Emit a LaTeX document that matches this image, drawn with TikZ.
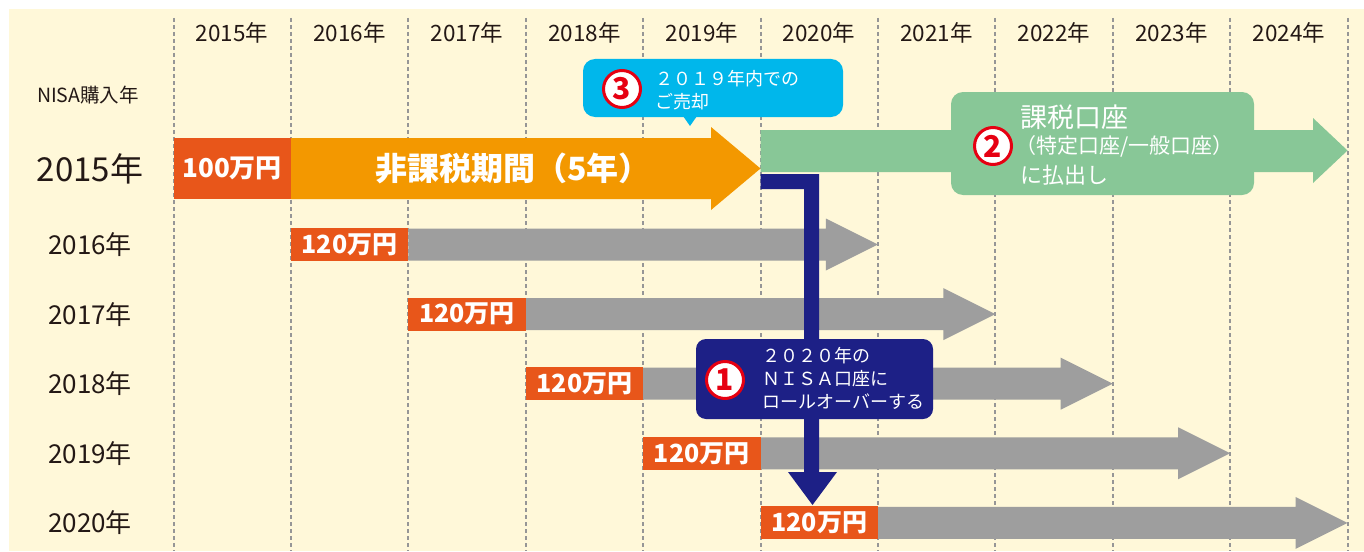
\documentclass[tikz,border=0pt]{standalone}
\usepackage{fontspec}
\setmainfont{Noto Sans CJK JP}
\usetikzlibrary{positioning}
\definecolor{cream}{RGB}{255,248,217}
\definecolor{gridgray}{RGB}{150,150,150}
\definecolor{barred}{RGB}{232,86,26}
\definecolor{barorange}{RGB}{243,152,0}
\definecolor{bargreen}{RGB}{136,199,151}
\definecolor{bargray}{RGB}{158,158,158}
\definecolor{rollnavy}{RGB}{29,32,134}
\definecolor{calloutblue}{RGB}{0,183,235}
\definecolor{markred}{RGB}{230,0,18}
\definecolor{inkdark}{RGB}{35,24,21}

\tikzset{
  gridline/.style={draw=gridgray, line width=2pt, dash pattern=on 4pt off 3pt},
  yearhead/.style={text=inkdark, inner sep=0pt, font=\fontsize{22.5}{25}\selectfont},
  rowlabel/.style={text=inkdark, inner sep=0pt, font=\fontsize{26}{28}\selectfont},
  moneybox/.style={fill=barred, text=white, minimum width=117.4pt, minimum height=33pt,
    inner sep=0pt, font=\bfseries\fontsize{25}{28}\selectfont},
  numbermark/.style={circle, draw=markred, line width=3pt, fill=white, text=markred,
    minimum size=37pt, inner sep=0pt, font=\bfseries\fontsize{30}{30}\selectfont},
  notetext/.style={text=white, anchor=west, inner sep=0pt, font=\fontsize{18}{20}\selectfont}
}

\begin{document}
\begin{tikzpicture}[x=1pt, y=-1pt]
    \useasboundingbox (0,0) rectangle (1364,551);
    \fill[cream] (9,9) rectangle (1364,551);

    \foreach \k in {0,...,10}
      \draw[gridline] (173.5+117.4*\k,18) -- (173.5+117.4*\k,551);

    \foreach \yr [count=\k from 0] in {2015,...,2024}
      \node[yearhead] (head\yr) at (232.2+117.4*\k,33) {{\yr}年};

    \node[text=inkdark, inner sep=0pt, font=\fontsize{19.5}{22}\selectfont] (buyyear) at (88,95) {NISA購入年};
    \node[text=inkdark, inner sep=0pt, font=\fontsize{33}{36}\selectfont] (row2015) at (90,168.5) {2015年};

    \fill[barorange] (290.9,138) -- (711,138) -- (711,127) -- (760.5,168.5)
      -- (711,210) -- (711,199) -- (290.9,199) -- cycle;
    \node[moneybox, minimum height=61pt, font=\bfseries\fontsize{26}{28}\selectfont] (buy2015) at (232.2,168.5) {100万円};
    \node[text=white, font=\bfseries\fontsize{32}{34}\selectfont] (taxfree) at (513,168.5) {非課税期間（5年）};

    \fill[bargreen] (760.5,130) -- (1313,130) -- (1313,118) -- (1347.5,150.5)
      -- (1313,183) -- (1313,172) -- (760.5,172) -- cycle;
    \fill[bargreen, rounded corners=12pt] (951,92) rectangle (1254,195);
    \node[numbermark] (mark2) at (993,146) {2};
    \node[notetext, font=\fontsize{27}{30}\selectfont] (taxed) at (1020,117) {課税口座};
    \node[notetext, font=\fontsize{21}{23}\selectfont] (taxedkind) at (1015,146) {（特定口座/一般口座）};
    \node[notetext, font=\fontsize{22}{24}\selectfont] (payout) at (1020,175) {に払出し};

    \foreach \yr [count=\k] in {2016,...,2020} {
      \pgfmathsetmacro{\ry}{244.5+69.6*(\k-1)}
      \pgfmathsetmacro{\bx}{173.5+117.4*\k}
      \pgfmathsetmacro{\tx}{173.5+117.4*(\k+5)}
      \node[rowlabel] (row\yr) at (90,\ry) {{\yr}年};
      \fill[bargray] (\bx+117.4,\ry-16) -- (\tx-52,\ry-16) -- (\tx-52,\ry-26) -- (\tx,\ry)
        -- (\tx-52,\ry+26) -- (\tx-52,\ry+16) -- (\bx+117.4,\ry+16) -- cycle;
      \node[moneybox] (buy\yr) at (\bx+58.7,\ry) {120万円};
    }

    \fill[rollnavy] (760.5,174) -- (819,174) -- (819,472) -- (837,472) -- (812.5,505)
      -- (788,472) -- (804,472) -- (804,189) -- (760.5,189) -- cycle;
    \fill[rollnavy, rounded corners=10pt] (696,339) rectangle (933,419);
    \node[numbermark] (mark1) at (725,380) {1};
    \node[notetext] (roll1) at (762,356) {２０２０年の};
    \node[notetext] (roll2) at (762,379) {ＮＩＳＡ口座に};
    \node[notetext] (roll3) at (762,402) {ロールオーバーする};

    \fill[calloutblue, rounded corners=12pt] (583,59) rectangle (843,117);
    \fill[calloutblue] (683,116) -- (697,116) -- (690,126) -- cycle;
    \node[numbermark] (mark3) at (622,89) {3};
    \node[notetext] (sell1) at (655,79) {２０１９年内での};
    \node[notetext] (sell2) at (655,102) {ご売却};
\end{tikzpicture}
\end{document}
